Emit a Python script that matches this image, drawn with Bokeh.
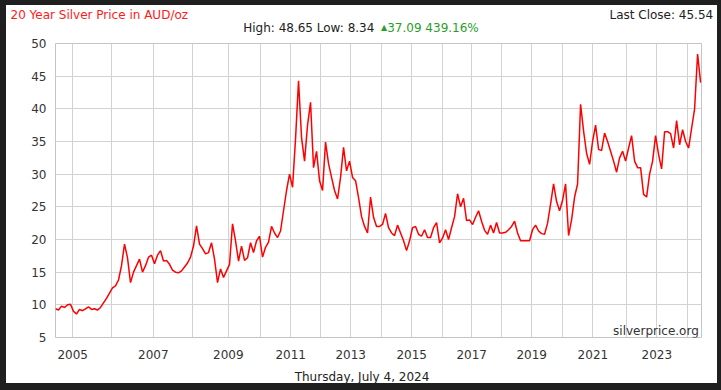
from bokeh.plotting import figure
from bokeh.layouts import column
from bokeh.models import Range1d, FixedTicker, Label
from bokeh.core.properties import value
from bokeh.embed import file_html
from bokeh.resources import INLINE

# ---- data ----
title_text = "20 Year Silver Price in AUD/oz"
stats_text = "High: 48.65 Low: 8.34"
change_text = "37.09 439.16%"
last_close_text = "Last Close: 45.54"
date_text = "Thursday, July 4, 2024"
source_text = "silverprice.org"

# price observations (AUD/oz), equally spaced in observation order
prices = [
    9.4, 9.2, 9.8, 9.6, 10.0, 10.1, 9.0, 8.6, 9.3, 9.1,
    9.4, 9.7, 9.3, 9.4, 9.2, 9.6, 10.3, 11.0, 11.8, 12.6,
    12.9, 13.8, 16.0, 19.3, 17.2, 13.4, 15.0, 16.0, 17.0, 15.0,
    16.0, 17.3, 17.6, 16.3, 17.6, 18.3, 16.7, 16.8, 16.2, 15.3,
    15.0, 14.9, 15.2, 15.8, 16.4, 17.3, 19.0, 22.1, 19.3, 18.6,
    17.8, 18.0, 19.5, 17.0, 13.4, 15.5, 14.2, 15.2, 16.2, 22.4,
    19.8, 16.7, 19.0, 16.8, 17.2, 19.5, 18.0, 19.8, 20.5, 17.3,
    18.8, 19.6, 22.0, 21.0, 20.3, 21.3, 24.4, 27.5, 30.0, 28.0,
    35.4, 44.3, 35.6, 32.0, 37.5, 41.0, 31.0, 33.5, 29.0, 27.5,
    34.9, 31.6, 29.5, 27.5, 26.2, 29.5, 34.1, 30.5, 32.0, 29.5,
    29.0, 26.4, 23.5, 22.0, 21.0, 26.5, 23.4, 22.0, 22.0, 22.3,
    24.0, 21.8, 21.0, 20.6, 22.2, 21.0, 19.8, 18.3, 19.8, 21.8,
    22.0, 20.8, 20.5, 21.5, 20.3, 20.3, 21.8, 22.6, 19.5, 20.2,
    21.5, 20.0, 21.8, 23.5, 27.0, 25.0, 26.3, 22.9, 23.0, 22.3,
    23.4, 24.4, 22.8, 21.4, 20.8, 22.2, 21.0, 22.6, 21.0, 21.0,
    21.1, 21.5, 22.0, 22.8, 21.0, 19.8, 19.8, 19.8, 19.8, 21.5,
    22.2, 21.3, 20.9, 20.8, 22.5, 25.4, 28.5, 25.8, 24.4, 26.0,
    28.5, 20.6, 23.0, 26.5, 28.5, 40.7, 36.6, 33.2, 31.5, 35.0,
    37.5, 33.8, 33.6, 36.3, 35.0, 33.5, 32.0, 30.3, 32.5, 33.5,
    32.0, 34.0, 35.9, 32.0, 31.0, 31.0, 26.9, 26.5, 30.0, 32.0,
    35.9, 33.0, 30.8, 36.5, 36.5, 36.2, 34.0, 38.2, 34.5, 36.8,
    35.0, 34.0, 37.0, 40.0, 48.4, 44.0,
]

# observation index at which each calendar year begins
years = [2005, 2006, 2007, 2008, 2009, 2010, 2011, 2012, 2013, 2014,
         2015, 2016, 2017, 2018, 2019, 2020, 2021, 2022, 2023, 2024]
year_start_obs = [5.73, 18.73, 32.6, 45.6, 57.6, 68.4, 78.4, 88.4, 98.4, 108.6,
                  118.7, 129.1, 138.7, 148.7, 158.7, 168.9, 179.1, 190.2, 200.4, 210.6]
y_ticks = [5, 10, 15, 20, 25, 30, 35, 40, 45, 50]
obs_end = 215.3

obs = list(range(len(prices)))

FONT = "DejaVu Sans"
GRID = "#d2d2d2"
W = 711


def text_strip(height):
    f = figure(width=W, height=height, x_range=Range1d(0, W), y_range=Range1d(height, 0),
               output_backend="svg", toolbar_location=None, title=None,
               x_axis_type=None, y_axis_type=None, frame_align=False,
               min_border_left=0, min_border_right=0, min_border_top=0, min_border_bottom=0,
               background_fill_color="white", border_fill_color="white")
    f.outline_line_color = None
    f.grid.visible = False
    return f


def put(f, x, y, text, color="#222222", size="12px", align="left"):
    f.text(x=[x], y=[y], text=[text], text_font=value(FONT), text_font_size=size,
           text_color=color, text_align=align, text_baseline="middle")


# header strip
head = text_strip(32)
put(head, 4, 9, title_text, color="#ff1a1a")
put(head, 706.7, 9, last_close_text, align="right")
put(head, 236.7, 22, stats_text)
put(head, 374.5, 21.5, "\u25B2", color="#2a9d2a", size="8px")
put(head, 380.7, 22, change_text, color="#2a9d2a")

# main chart
p = figure(frame_width=646, frame_height=294,
           x_range=Range1d(0, obs_end), y_range=Range1d(5, 50),
           output_backend="svg", toolbar_location=None, title=None, frame_align=False,
           min_border_left=49, min_border_right=16,
           min_border_top=6, min_border_bottom=24,
           background_fill_color="white", border_fill_color="white")
p.outline_line_color = "#c4c4c4"

major = [o for o, y in zip(year_start_obs, years) if y % 2 == 1]
minor = [o for o, y in zip(year_start_obs, years) if y % 2 == 0]
p.xaxis.ticker = FixedTicker(ticks=major, minor_ticks=minor)
p.xaxis.major_label_overrides = {o: str(y) for o, y in zip(year_start_obs, years) if y % 2 == 1}
p.yaxis.ticker = FixedTicker(ticks=y_ticks)

for ax in (p.xaxis, p.yaxis):
    ax.axis_line_color = None
    ax.major_tick_line_color = None
    ax.minor_tick_line_color = None
    ax.major_label_text_font = FONT
    ax.major_label_text_font_size = "12px"
    ax.major_label_text_color = "#333333"
p.yaxis.major_label_standoff = 3
p.xaxis.major_label_standoff = 6

p.xgrid.grid_line_color = GRID
p.xgrid.minor_grid_line_color = GRID
p.ygrid.grid_line_color = GRID

p.line(obs, prices, line_color="#ff0000", line_width=1.5)

p.add_layout(Label(x=643.3, y=7, x_units="screen", y_units="screen", text=source_text,
                   text_font=FONT, text_font_size="12px", text_color="#333333",
                   text_align="right", text_baseline="middle"))

# footer strip
foot = text_strip(22)
put(foot, 355.5, 15.7, date_text, align="center")

layout = column(head, p, foot, spacing=0, margin=(5, 4, 7, 6),
                styles={"background-color": "white"})

TEMPLATE = """{% block preamble %}<style>html, body { background-color: #1f1f1f; }</style>{% endblock %}"""

open("out.html", "w").write(file_html(layout, INLINE, template=TEMPLATE))
